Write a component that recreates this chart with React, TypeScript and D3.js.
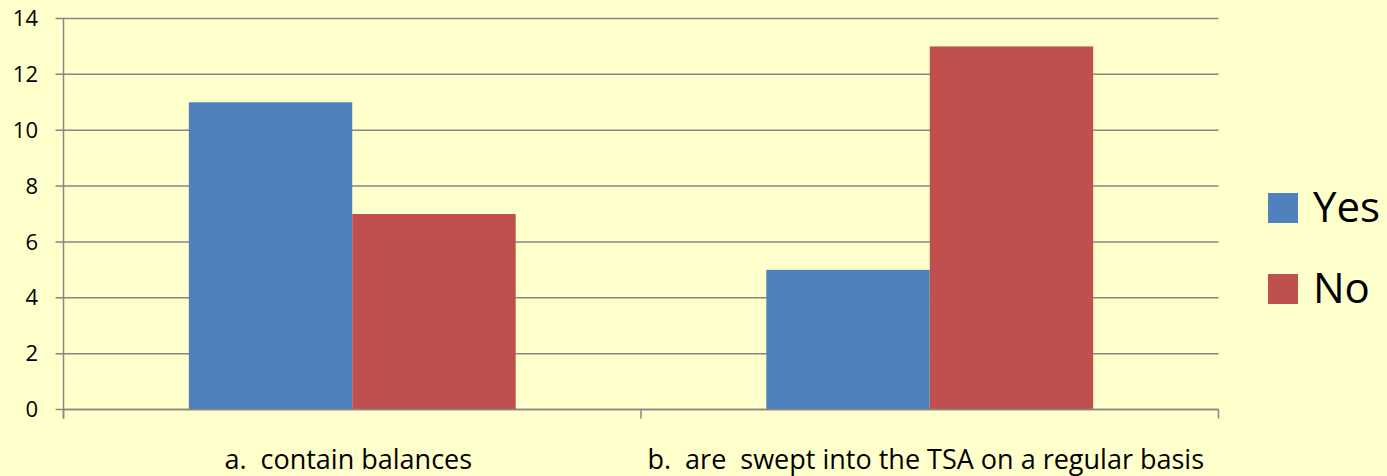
import { useEffect, useRef } from "react";
import * as d3 from "d3";

const categories = ["a.  contain balances", "b.  are  swept into the TSA on a regular basis"];
const seriesNames = ["Yes", "No"];
const yesValues = [11, 5];
const noValues = [7, 13];
const yTicks = [0, 2, 4, 6, 8, 10, 12, 14];
const colors = ["#4F81BD", "#C0504D"];

const W = 1387;
const H = 476;
const FONT = "'Open Sans', 'Noto Sans', sans-serif";

export default function App() {
  const svgRef = useRef<SVGSVGElement>(null);

  useEffect(() => {
    document.body.style.margin = "0";
    if (!svgRef.current) return;
    const svg = d3.select(svgRef.current);
    svg.selectAll("*").remove();

    const left = 63.5;
    const right = 1218.5;
    const top = 18.5;
    const bottom = 409.5;

    svg.append("rect").attr("width", W).attr("height", H).attr("fill", "#FFFFCC");

    const y = d3.scaleLinear().domain([0, 14]).range([bottom, top]);
    const x0 = d3.scaleBand<string>().domain(categories).range([left, right]).padding(0);
    const bw = x0.bandwidth();
    const gap = 0.217;
    const x1 = d3.scaleBand<string>().domain(seriesNames).range([bw * gap, bw * (1 - gap)]).padding(0);

    // gridlines + left ticks
    const g = svg.append("g");
    yTicks.forEach((t) => {
      g.append("line")
        .attr("x1", left - 8).attr("x2", right)
        .attr("y1", y(t)).attr("y2", y(t))
        .attr("stroke", "#868686").attr("stroke-width", 1.5);
      g.append("text")
        .attr("x", 38).attr("y", y(t))
        .attr("dy", "0.35em")
        .attr("text-anchor", "end")
        .attr("font-family", FONT).attr("font-size", 22)
        .attr("fill", "#000")
        .text(t);
    });

    // bars
    const rows = categories.map((c, i) => ({ cat: c, vals: [yesValues[i], noValues[i]] }));
    rows.forEach((r) => {
      r.vals.forEach((v, j) => {
        svg.append("rect")
          .attr("x", (x0(r.cat) ?? 0) + (x1(seriesNames[j]) ?? 0))
          .attr("y", y(v))
          .attr("width", x1.bandwidth())
          .attr("height", bottom - y(v))
          .attr("fill", colors[j]);
      });
    });

    // axes
    svg.append("line")
      .attr("x1", left).attr("x2", left).attr("y1", top).attr("y2", bottom + 9)
      .attr("stroke", "#868686").attr("stroke-width", 1.5);
    svg.append("line")
      .attr("x1", left).attr("x2", right).attr("y1", bottom).attr("y2", bottom)
      .attr("stroke", "#868686").attr("stroke-width", 1.5);
    const bounds = [...categories.map((c) => x0(c) ?? 0), right];
    bounds.forEach((bx) => {
      svg.append("line")
        .attr("x1", bx).attr("x2", bx).attr("y1", bottom).attr("y2", bottom + 9)
        .attr("stroke", "#868686").attr("stroke-width", 1.5);
    });

    categories.forEach((c) => {
      svg.append("text")
        .attr("x", (x0(c) ?? 0) + bw / 2 - 4)
        .attr("y", 469)
        .attr("text-anchor", "middle")
        .attr("font-family", FONT).attr("font-size", 27)
        .attr("fill", "#000")
        .style("white-space", "pre")
        .text(c);
    });

    // legend
    seriesNames.forEach((s, i) => {
      const ly = 193 + i * 81;
      svg.append("rect")
        .attr("x", 1268).attr("y", ly).attr("width", 30).attr("height", 30)
        .attr("fill", colors[i]);
      svg.append("text")
        .attr("x", 1313).attr("y", ly + 29)
        .attr("font-family", FONT).attr("font-size", 42)
        .attr("fill", "#000")
        .text(s);
    });
  }, []);

  return (
    <svg
      ref={svgRef}
      width={W}
      height={H}
      style={{ display: "block", position: "absolute", left: 0, top: 0 }}
    />
  );
}
